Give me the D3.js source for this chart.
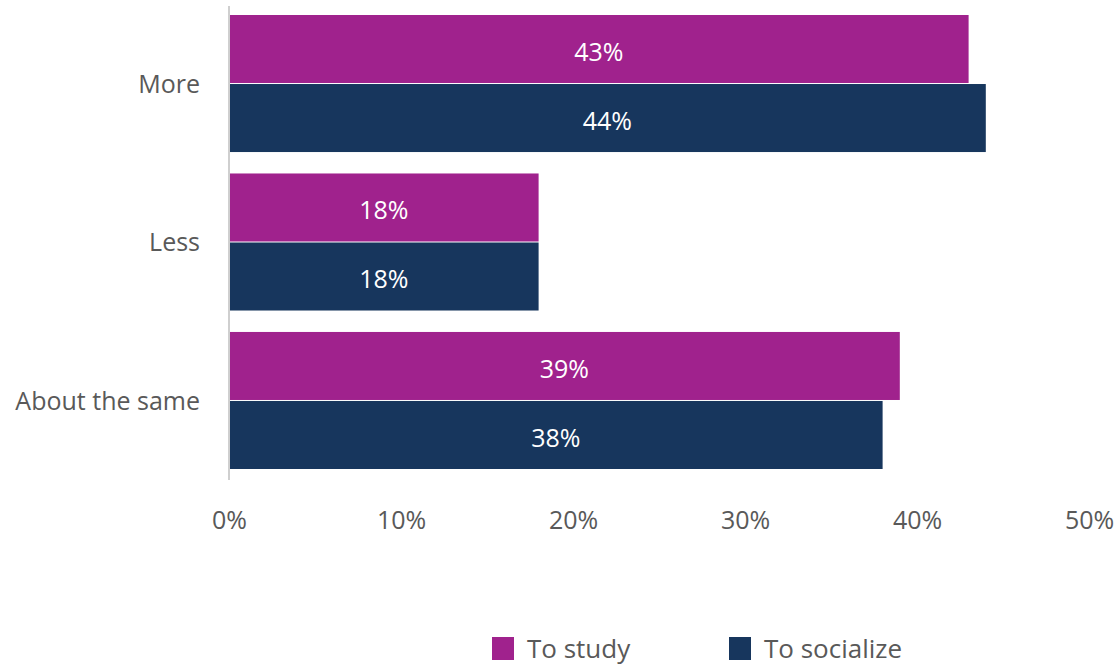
<!DOCTYPE html>
<html>
<head>
<meta charset="utf-8">
<script src="https://cdn.jsdelivr.net/npm/d3@7"></script>
<style>
  html, body { margin: 0; padding: 0; background: #fff; }
  svg { display: block; font-family: "Open Sans", "Noto Sans", sans-serif; }
</style>
</head>
<body>
<svg id="chart" width="1119" height="666"></svg>
<script>
// Response categories (top to bottom)
const categories = ["More", "Less", "About the same"];
// Series names and colours
const seriesNames = ["To study", "To socialize"];
const seriesColors = ["#A0228D", "#17365D"];
// Share of respondents, in percent
const studyValues = [43, 18, 39];
const socializeValues = [44, 18, 38];
// X-axis ticks
const xTicks = [0, 10, 20, 30, 40, 50];

const svg = d3.select("#chart");
const textColor = "#595959";
const fontSize = 25;

const x = d3.scaleLinear().domain([0, 50]).range([229, 1089]);
const y = d3.scaleBand().domain(categories).range([15, 470]).paddingInner(0.129).paddingOuter(0);
const ySub = d3.scaleBand().domain(seriesNames).range([0, y.bandwidth()]);

const rows = categories.map((c, i) => ({
  category: c,
  values: [
    { series: seriesNames[0], value: studyValues[i], color: seriesColors[0] },
    { series: seriesNames[1], value: socializeValues[i], color: seriesColors[1] }
  ]
}));

const groups = svg.selectAll("g.group")
  .data(rows)
  .join("g")
  .attr("class", "group")
  .attr("transform", d => `translate(0,${y(d.category)})`);

groups.selectAll("rect")
  .data(d => d.values)
  .join("rect")
  .attr("x", x(0) + 1)
  .attr("y", d => ySub(d.series))
  .attr("width", d => x(d.value) - x(0) - 1)
  .attr("height", ySub.bandwidth() - 1)
  .attr("fill", d => d.color);

groups.selectAll("text.value")
  .data(d => d.values)
  .join("text")
  .attr("class", "value")
  .attr("x", d => (x(0) + x(d.value)) / 2)
  .attr("y", d => ySub(d.series) + ySub.bandwidth() / 2)
  .attr("dy", "0.45em")
  .attr("text-anchor", "middle")
  .attr("fill", "#fff")
  .attr("font-size", fontSize)
  .text(d => d.value + "%");

// Category labels
svg.append("g")
  .selectAll("text")
  .data(categories)
  .join("text")
  .attr("x", 200)
  .attr("y", d => y(d) + y.bandwidth() / 2)
  .attr("dy", "0.35em")
  .attr("text-anchor", "end")
  .attr("fill", textColor)
  .attr("font-size", fontSize)
  .text(d => d);

// Vertical baseline
svg.append("line")
  .attr("x1", x(0)).attr("x2", x(0))
  .attr("y1", 6).attr("y2", 480)
  .attr("stroke", "#cfcfcf")
  .attr("stroke-width", 2);

// X-axis tick labels
const xAxis = d3.axisBottom(x)
  .tickValues(xTicks)
  .tickFormat(d => d + "%")
  .tickSize(0)
  .tickPadding(0);
const xg = svg.append("g")
  .attr("transform", "translate(0,511)")
  .call(xAxis);
xg.select(".domain").remove();
xg.selectAll("text")
  .attr("fill", textColor)
  .attr("font-size", fontSize)
  .attr("font-family", "\"Open Sans\", \"Noto Sans\", sans-serif");

// Legend
const legendX = [492, 729];
const legend = svg.append("g")
  .selectAll("g")
  .data(seriesNames)
  .join("g")
  .attr("transform", (d, i) => `translate(${legendX[i]},637)`);
legend.append("rect")
  .attr("width", 22).attr("height", 23)
  .attr("fill", (d, i) => seriesColors[i]);
legend.append("text")
  .attr("x", 35)
  .attr("y", 11.5)
  .attr("dy", "0.37em")
  .attr("fill", textColor)
  .attr("font-size", 26)
  .text(d => d);
</script>
</body>
</html>
